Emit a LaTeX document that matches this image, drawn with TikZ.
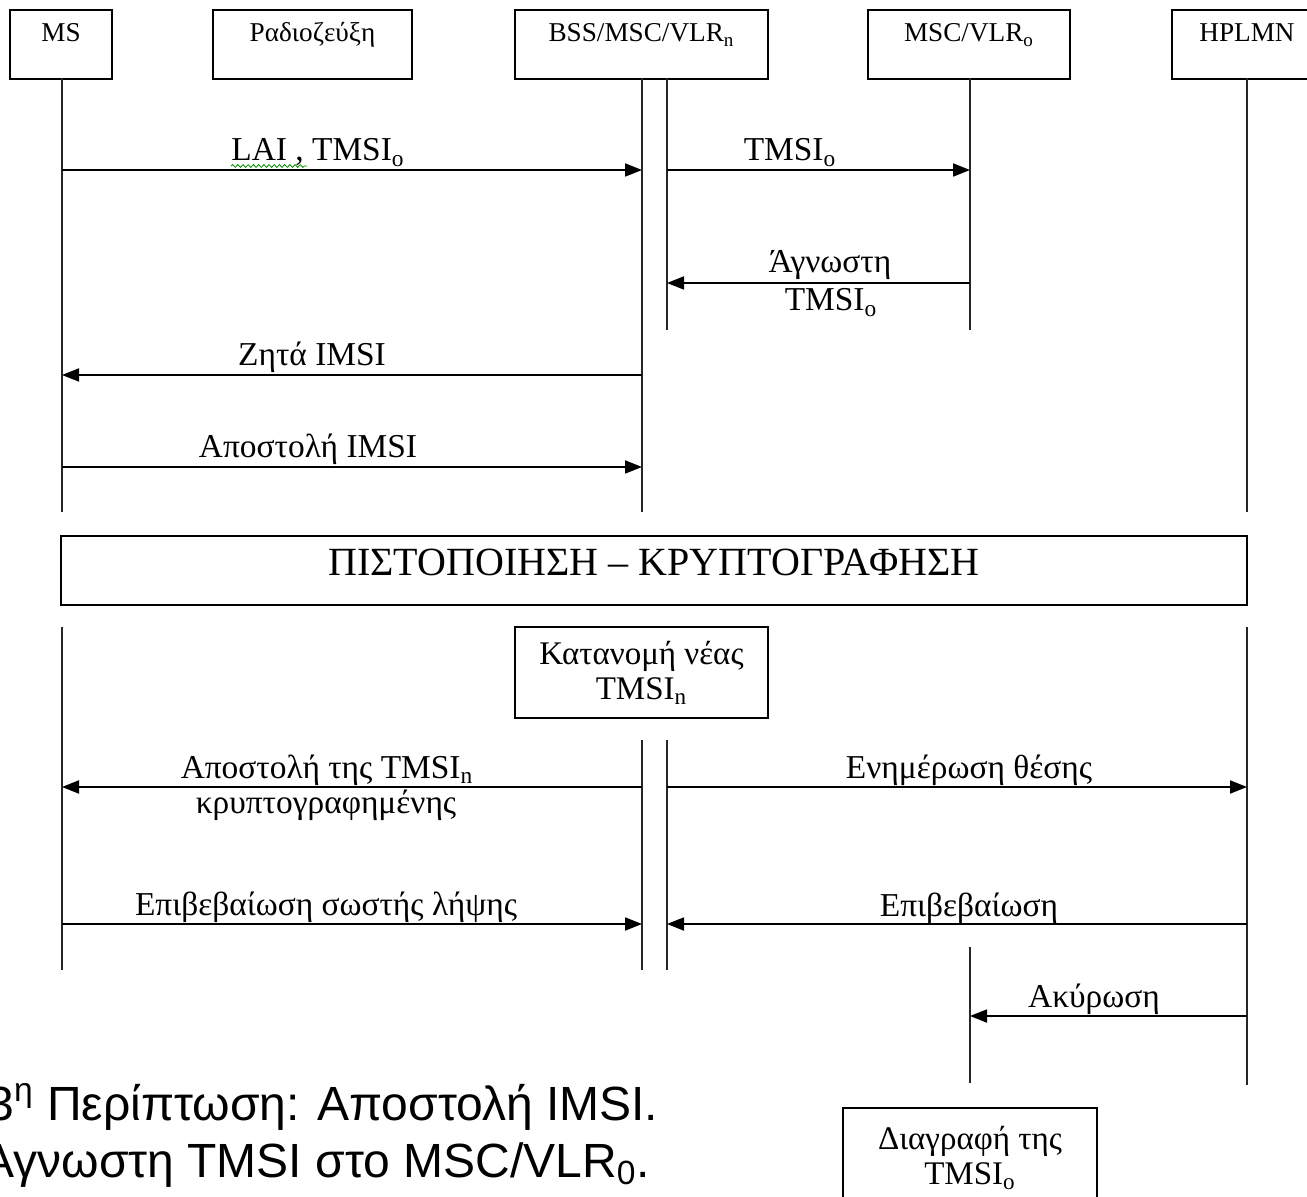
\documentclass[tikz,border=0pt]{standalone}
\usepackage{fontspec}
\setmainfont{Liberation Serif}
\newfontfamily\capfont{Liberation Sans}
\usetikzlibrary{arrows.meta,calc,decorations.pathmorphing}

\tikzset{
	hdr/.style={draw, line width=0.9pt, inner sep=0pt, anchor=north, font=\fontsize{13.6}{15}\selectfont, text height=16pt, text depth=18.5pt},
	life/.style={line width=0.9pt, color=black!85},
	msg/.style={line width=0.9pt, -{Triangle[length=8.5pt,width=6.5pt]}},
	lbl/.style={anchor=base, inner sep=0pt, font=\fontsize{16.7}{18}\selectfont},
	note/.style={draw, line width=0.9pt, align=center, inner sep=0pt, font=\fontsize{16.5}{17.5}\selectfont},
	captxt/.style={anchor=base west, inner sep=0pt, font=\capfont\fontsize{24}{28}\selectfont}
}

\begin{document}
\begin{tikzpicture}[x=0.5pt, y=-0.5pt]
		%%%%% START %%%%%
		\clip (0, 0) rectangle (1307, 1197);
		
		\node[hdr, minimum width=51pt] (ms) at (61, 9) {MS};
		\node[hdr, minimum width=99.5pt] (radio) at (312.5, 9) {Ραδιοζεύξη};
		\node[hdr, minimum width=126.5pt] (bssn) at (641.5, 9) {BSS/MSC/VLR\textsubscript{n}};
		\node[hdr, minimum width=101pt] (msco) at (969, 9) {MSC/VLR\textsubscript{o}};
		\node[hdr, minimum width=75pt] (hplmn) at (1247, 9) {HPLMN};
		
		\coordinate (msA) at (62, 78);   \coordinate (msB) at (62, 512);
		\coordinate (bssA) at (642, 78); \coordinate (bssB) at (642, 512);
		\coordinate (bssC) at (667, 78); \coordinate (bssD) at (667, 330);
		\coordinate (mscA) at (970, 78); \coordinate (mscB) at (970, 330);
		\coordinate (hpA) at (1247, 78); \coordinate (hpB) at (1247, 512);
		
		\draw[life] (msA) -- (msB);
		\draw[life] (bssA) -- (bssB);
		\draw[life] (bssC) -- (bssD);
		\draw[life] (mscA) -- (mscB);
		\draw[life] (hpA) -- (hpB);
		
		\coordinate (r1) at (0, 170);
		\coordinate (r2) at (0, 283);
		\coordinate (r3) at (0, 375);
		\coordinate (r4) at (0, 467);
		
		\draw[msg] (msA |- r1) -- (bssA |- r1);
		\node[lbl] (t1) at (318, 161) {LAI , TMSI\textsubscript{o}};
		\draw[green!55!black, line width=0.4pt, decorate, decoration={snake, amplitude=0.7pt, segment length=2.6pt}] ($(t1.base west)+(0,5)$) -- ($(t1.base west)+(76,5)$);
		\draw[msg] (bssC |- r1) -- (mscA |- r1);
		\node[lbl] (t2) at (790, 161) {TMSI\textsubscript{o}};
		
		\draw[msg] (mscA |- r2) -- (bssC |- r2);
		\node[lbl] (t3a) at (830, 273) {Άγνωστη};
		\node[lbl] (t3b) at (831, 311) {TMSI\textsubscript{o}};
		
		\draw[msg] (bssA |- r3) -- (msA |- r3);
		\node[lbl] (t4) at (312, 366) {Ζητά IMSI};
		
		\draw[msg] (msA |- r4) -- (bssA |- r4);
		\node[lbl] (t5) at (308, 458) {Αποστολή IMSI};
		
		\node[draw, line width=0.9pt, inner sep=0pt, anchor=north, minimum width=593pt, text height=20pt, text depth=14.5pt, font=\fontsize{20}{22}\selectfont] (auth) at (654, 535) {ΠΙΣΤΟΠΟΙΗΣΗ – ΚΡΥΠΤΟΓΡΑΦΗΣΗ};
		
		\node[note, minimum width=126.5pt, minimum height=45.5pt] (alloc) at (641.5, 672.5) {Κατανομή νέας\\TMSI\textsubscript{n}};
		
		\coordinate (msC) at (62, 627);    \coordinate (msD) at (62, 970);
		\coordinate (bssE) at (642, 740);  \coordinate (bssF) at (642, 970);
		\coordinate (bssG) at (667, 740);  \coordinate (bssH) at (667, 970);
		\coordinate (mscC) at (970, 947);  \coordinate (mscD) at (970, 1083);
		\coordinate (hpC) at (1247, 627);  \coordinate (hpD) at (1247, 1085);
		
		\draw[life] (msC) -- (msD);
		\draw[life] (bssE) -- (bssF);
		\draw[life] (bssG) -- (bssH);
		\draw[life] (mscC) -- (mscD);
		\draw[life] (hpC) -- (hpD);
		
		\coordinate (r5) at (0, 787);
		\coordinate (r6) at (0, 924);
		\coordinate (r7) at (0, 1016);
		
		\draw[msg] (bssE |- r5) -- (msC |- r5);
		\node[lbl] (t6a) at (327, 778) {Αποστολή της TMSI\textsubscript{n}};
		\node[lbl] (t6b) at (326, 813) {κρυπτογραφημένης};
		\draw[msg] (bssG |- r5) -- (hpC |- r5);
		\node[lbl] (t7) at (969, 778) {Ενημέρωση θέσης};
		
		\draw[msg] (msC |- r6) -- (bssE |- r6);
		\node[lbl] (t8) at (326, 915) {Επιβεβαίωση σωστής λήψης};
		\draw[msg] (hpC |- r6) -- (bssG |- r6);
		\node[lbl] (t9) at (969, 916) {Επιβεβαίωση};
		
		\draw[msg] (hpC |- r7) -- (mscC |- r7);
		\node[lbl] (t10) at (1094, 1007) {Ακύρωση};
		
		\node[note, minimum width=127pt, minimum height=50pt] (erase) at (970, 1158) {Διαγραφή της\\TMSI\textsubscript{o}};
		
		\node[captxt] (cap1) at (-13, 1120) {3\textsuperscript{η} Περίπτωση: Αποστολή IMSI.};
		\node[captxt] (cap2) at (-18, 1177) {Άγνωστη TMSI στο MSC/VLR\textsubscript{0}.};
		%%%%% END %%%%%
\end{tikzpicture}
\end{document}
